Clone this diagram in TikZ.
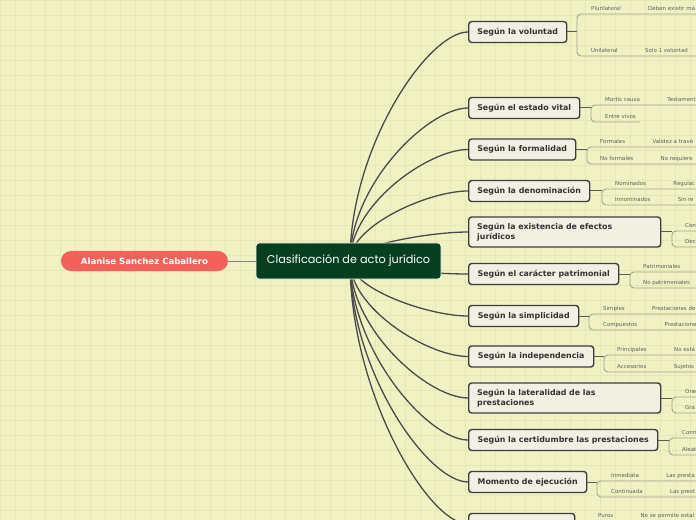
\documentclass[tikz,border=0pt]{standalone}
\usepackage{fontspec}
\setmainfont{DejaVu Sans}
\newfontfamily\hubfont{Poppins}
\usetikzlibrary{calc, positioning}
\definecolor{paper}{HTML}{F1F2C4}
\definecolor{paperline}{HTML}{E5E7B5}
\definecolor{hubgreen}{HTML}{063F1F}
\definecolor{authorred}{HTML}{F2625B}
\definecolor{branchfill}{HTML}{F2F0E2}
\definecolor{branchdraw}{HTML}{3D3D3D}
\definecolor{inkdark}{HTML}{333333}
\definecolor{leafgray}{HTML}{5E5E5E}
\definecolor{bracketgray}{HTML}{A4A48E}
\definecolor{spokegray}{HTML}{4A4A4A}
\definecolor{stemgray}{HTML}{5A5A5A}

\begin{document}
\begin{tikzpicture}[
  x=1bp, y=-1bp,
  hub/.style={draw=white, line width=0.8bp, fill=hubgreen, rounded corners=3bp,
              text=white, font=\hubfont\fontsize{11.3}{13}\selectfont,
              minimum width=185bp, minimum height=36bp, inner sep=0pt},
  author/.style={fill=authorred, rounded corners=10bp, text=white,
                 font=\bfseries\fontsize{8.6}{10}\selectfont,
                 minimum width=167bp, minimum height=20bp, inner sep=0pt},
  branch/.style={draw=branchdraw, line width=1.4bp, fill=branchfill, rounded corners=3bp,
                 anchor=west, align=left, text=inkdark,
                 font=\bfseries\fontsize{7.9}{9.6}\selectfont,
                 inner xsep=8.5bp, inner ysep=0pt, minimum height=21bp},
  twoline/.style={branch, text width=175bp, minimum height=30bp},
  leaf/.style={anchor=south west, inner xsep=0pt, inner ysep=2.5bp,
               text height=4bp, text depth=1bp, text=leafgray,
               font=\fontsize{5.5}{6.5}\selectfont},
  spoke/.style={draw=spokegray, line width=1.3bp,
                to path={.. controls ($(\tikztostart)!0.5!(\tikztostart |- \tikztotarget)$)
                         and ($(\tikztotarget)+(-40,0)$) .. (\tikztotarget)}},
  stem/.style={draw=stemgray, line width=1bp},
  bracket/.style={draw=bracketgray, line width=0.9bp, rounded corners=4bp},
  authorlink/.style={draw=gray, line width=0.9bp}
]

% ---------------- Paper ----------------
\useasboundingbox (0,0) rectangle (696,520);
\clip (0,0) rectangle (696,520);
\fill[paper] (0,0) rectangle (696,520);
\draw[paperline, line width=0.5bp] (0,0) grid[xstep=15bp, ystep=15bp] (696,520);

% ---------------- Branches ----------------
\node[branch, minimum width=98bp]  (voluntad)      at (468,32)    {Según la voluntad};
\node[branch, minimum width=111bp] (estado)        at (468,108)   {Según el estado vital};
\node[branch, minimum width=107bp] (formalidad)    at (468,149.5) {Según la formalidad};
\node[branch, minimum width=121bp] (denominacion)  at (468,191)   {Según la denominación};
\node[twoline]                     (existencia)    at (468,232)   {Según la existencia de efectos\\jurídicos};
\node[branch, minimum width=150bp] (patrimonial)   at (468,274)   {Según el carácter patrimonial};
\node[branch, minimum width=110bp] (simplicidad)   at (468,316)   {Según la simplicidad};
\node[branch, minimum width=125bp] (independencia) at (468,356.5) {Según la independencia};
\node[twoline]                     (lateralidad)   at (468,398)   {Según la lateralidad de las\\prestaciones};
\node[branch, minimum width=189bp] (certidumbre)   at (468,440)   {Según la certidumbre las prestaciones};
\node[branch, minimum width=118bp] (momento)       at (468,482)   {Momento de ejecución};
\node[branch, minimum width=106bp] (modalidad)     at (468,524)   {};

% ---------------- Spokes from the centre ----------------
\coordinate (hub) at (350,261);
\draw[spoke] (hub) to (voluntad.west);
\draw[spoke] (hub) to (estado.west);
\draw[spoke] (hub) to (formalidad.west);
\draw[spoke] (hub) to (denominacion.west);
\draw[spoke] (hub) to (existencia.west);
\draw[spoke] (hub) to (patrimonial.west);
\draw[spoke] (hub) to (simplicidad.west);
\draw[spoke] (hub) to (independencia.west);
\draw[spoke] (hub) to (lateralidad.west);
\draw[spoke] (hub) to (certidumbre.west);
\draw[spoke] (hub) to (momento.west);
\draw[spoke] (hub) to (modalidad.west);

% ---------------- Centre and author ----------------
\node[hub]    (central) at (348.5,261) {Clasificación de acto jurídico};
\node[author] (alanise) at (144.5,261) {Alanise Sanchez Caballero};
\draw[authorlink] (alanise) -- (central);

% ---------------- Leaves ----------------
% voluntad
\coordinate (voluntad-t) at (577,32);
\node[leaf] (plurilateral) at (591,14) {Plurilateral};
\node[leaf, right=27bp of plurilateral] (plurilateral-d) {Deben existir má};
\node[leaf] (unilateral) at (591,56) {Unilateral};
\node[leaf, right=27bp of unilateral] (unilateral-d) {Solo 1 voluntad};
\draw[stem] (voluntad) -- (voluntad-t);
\draw[bracket] (plurilateral.south -| 710,0) -- (voluntad-t |- plurilateral.south)
  -- (voluntad-t |- unilateral.south) -- (unilateral.south -| 710,0);

% estado vital
\coordinate (estado-t) at (591,108);
\node[leaf] (mortis) at (605,105) {Mortis causa};
\node[leaf, right=27bp of mortis] (mortis-d) {Testament};
\node[leaf] (entrevivos) at (605,122) {Entre vivos};
\draw[stem] (estado) -- (estado-t);
\draw[bracket] (mortis.south -| 710,0) -- (estado-t |- mortis.south)
  -- (estado-t |- entrevivos.south) -- ([xshift=4bp]entrevivos.south east);

% formalidad
\coordinate (formalidad-t) at (587,149.5);
\node[leaf] (formales) at (600,147) {Formales};
\node[leaf, right=27bp of formales] (formales-d) {Validez a travé};
\node[leaf] (noformales) at (600,164) {No formales};
\node[leaf, right=27bp of noformales] (noformales-d) {No requiere};
\draw[stem] (formalidad) -- (formalidad-t);
\draw[bracket] (formales.south -| 710,0) -- (formalidad-t |- formales.south)
  -- (formalidad-t |- noformales.south) -- (noformales.south -| 710,0);

% denominacion
\coordinate (denominacion-t) at (602,191);
\node[leaf] (nominados) at (615,189) {Nominados};
\node[leaf, right=27bp of nominados] (nominados-d) {Regulac};
\node[leaf] (innominados) at (615,205) {Innominados};
\node[leaf, right=27bp of innominados] (innominados-d) {Sin re};
\draw[stem] (denominacion) -- (denominacion-t);
\draw[bracket] (nominados.south -| 710,0) -- (denominacion-t |- nominados.south)
  -- (denominacion-t |- innominados.south) -- (innominados.south -| 710,0);

% existencia
\coordinate (existencia-t) at (672,232);
\node[leaf] (con) at (685,231) {Con};
\node[leaf] (dec) at (685,247) {Dec};
\draw[stem] (existencia) -- (existencia-t);
\draw[bracket] (con.south -| 710,0) -- (existencia-t |- con.south)
  -- (existencia-t |- dec.south) -- (dec.south -| 710,0);

% patrimonial
\coordinate (patrimonial-t) at (630,274);
\node[leaf] (patrimoniales) at (643,272) {Patrimoniales};
\node[leaf] (nopatrimoniales) at (643,288) {No patrimoniales};
\draw[stem] (patrimonial) -- (patrimonial-t);
\draw[bracket] (patrimoniales.south -| 710,0) -- (patrimonial-t |- patrimoniales.south)
  -- (patrimonial-t |- nopatrimoniales.south) -- (nopatrimoniales.south -| 710,0);

% simplicidad
\coordinate (simplicidad-t) at (589,316);
\node[leaf] (simples) at (603,314) {Simples};
\node[leaf, right=27bp of simples] (simples-d) {Prestaciones de};
\node[leaf] (compuestos) at (603,330) {Compuestos};
\node[leaf, right=27bp of compuestos] (compuestos-d) {Prestacione};
\draw[stem] (simplicidad) -- (simplicidad-t);
\draw[bracket] (simples.south -| 710,0) -- (simplicidad-t |- simples.south)
  -- (simplicidad-t |- compuestos.south) -- (compuestos.south -| 710,0);

% independencia
\coordinate (independencia-t) at (604,356.5);
\node[leaf] (principales) at (617,355) {Principales};
\node[leaf, right=27bp of principales] (principales-d) {No está};
\node[leaf] (accesorios) at (617,372) {Accesorios};
\node[leaf, right=27bp of accesorios] (accesorios-d) {Sujetos};
\draw[stem] (independencia) -- (independencia-t);
\draw[bracket] (principales.south -| 710,0) -- (independencia-t |- principales.south)
  -- (independencia-t |- accesorios.south) -- (accesorios.south -| 710,0);

% lateralidad
\coordinate (lateralidad-t) at (672,398);
\node[leaf] (one) at (685,397) {One};
\node[leaf] (gra) at (685,413) {Gra};
\draw[stem] (lateralidad) -- (lateralidad-t);
\draw[bracket] (one.south -| 710,0) -- (lateralidad-t |- one.south)
  -- (lateralidad-t |- gra.south) -- (gra.south -| 710,0);

% certidumbre
\coordinate (certidumbre-t) at (669,440);
\node[leaf] (conm) at (682,438) {Conm};
\node[leaf] (aleat) at (682,455) {Aleat};
\draw[stem] (certidumbre) -- (certidumbre-t);
\draw[bracket] (conm.south -| 710,0) -- (certidumbre-t |- conm.south)
  -- (certidumbre-t |- aleat.south) -- (aleat.south -| 710,0);

% momento de ejecucion
\coordinate (momento-t) at (597,482);
\node[leaf] (inmediata) at (611,481) {Inmediata};
\node[leaf, right=27bp of inmediata] (inmediata-d) {Las presta};
\node[leaf] (continuada) at (611,497) {Continuada};
\node[leaf, right=27bp of continuada] (continuada-d) {Las prest};
\draw[stem] (momento) -- (momento-t);
\draw[bracket] (inmediata.south -| 710,0) -- (momento-t |- inmediata.south)
  -- (momento-t |- continuada.south) -- (continuada.south -| 710,0);

% last branch (cut by the page)
\coordinate (modalidad-t) at (586,524);
\node[leaf] (puros) at (598,521) {Puros};
\node[leaf, right=27bp of puros] (puros-d) {No se permite estal};
\draw[stem] (modalidad) -- (modalidad-t);
\draw[bracket] (puros.south -| 710,0) -- (modalidad-t |- puros.south)
  -- (modalidad-t |- 0,545);

\end{tikzpicture}
\end{document}
